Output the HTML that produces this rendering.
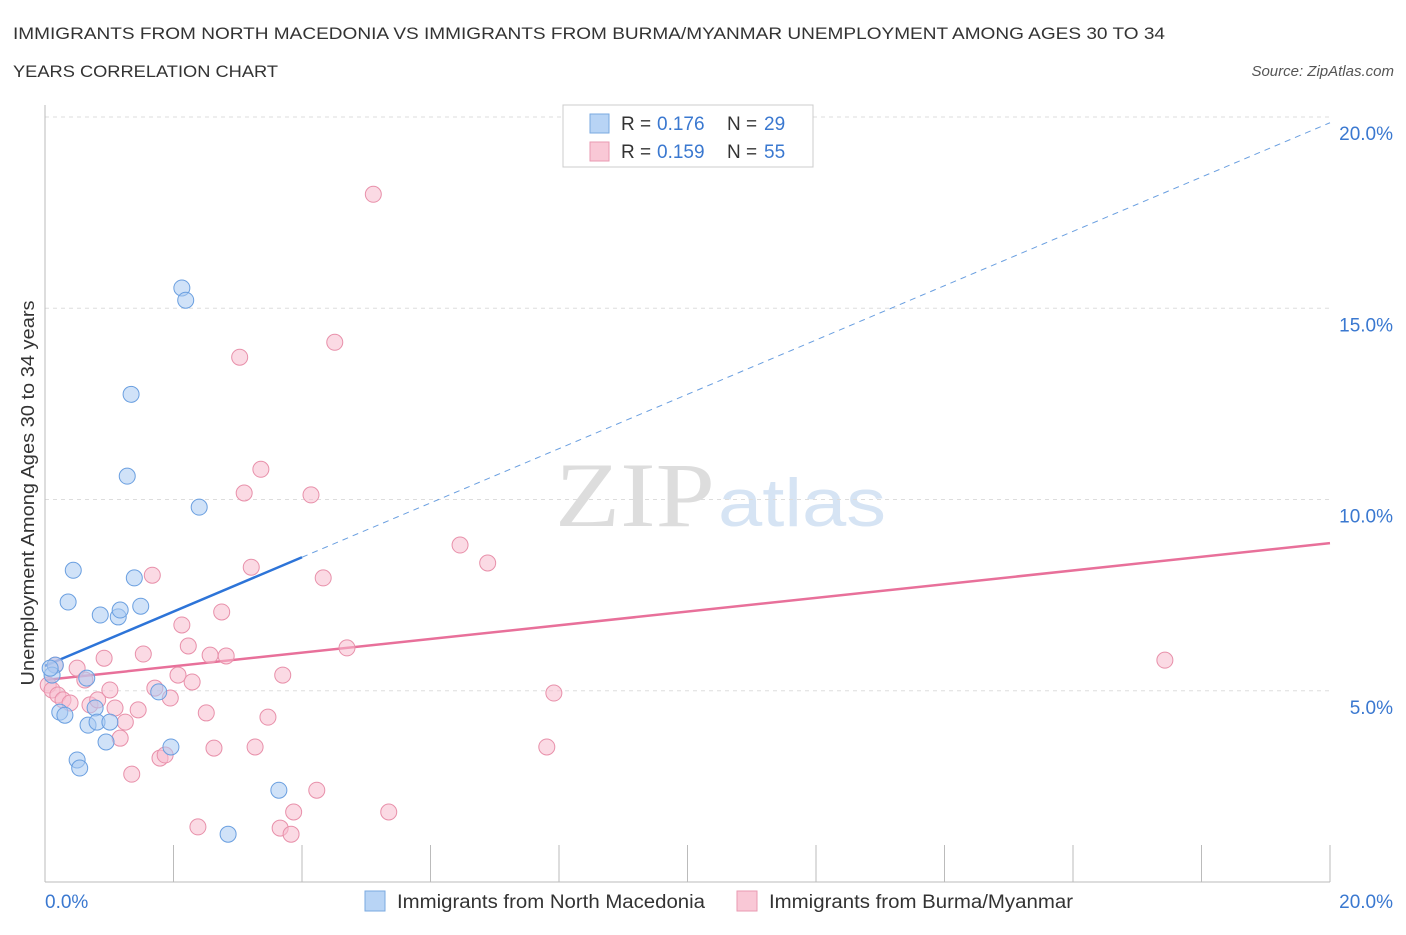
<!DOCTYPE html>
<html><head><meta charset="utf-8"><style>
body{margin:0;background:#fff;font-family:"Liberation Sans",sans-serif;}
</style></head><body>
<svg id="c" width="1406" height="930" xmlns="http://www.w3.org/2000/svg" style="font-family:'Liberation Sans',sans-serif">
<text x="13" y="39" font-size="17" fill="#333" textLength="1152" lengthAdjust="spacingAndGlyphs">IMMIGRANTS FROM NORTH MACEDONIA VS IMMIGRANTS FROM BURMA/MYANMAR UNEMPLOYMENT AMONG AGES 30 TO 34</text>
<text x="13" y="77" font-size="17" fill="#333" textLength="265" lengthAdjust="spacingAndGlyphs">YEARS CORRELATION CHART</text>
<text x="1394" y="76" font-size="15" fill="#555" font-style="italic" text-anchor="end">Source: ZipAtlas.com</text>
<text x="555" y="526" font-size="92" fill="#ddd" font-family="Liberation Serif,serif" textLength="160" lengthAdjust="spacingAndGlyphs">ZIP</text>
<text x="718" y="526" font-size="68" fill="#d6e4f4" textLength="168" lengthAdjust="spacingAndGlyphs">atlas</text>
<text transform="translate(34,493) rotate(-90)" font-size="18" fill="#333" text-anchor="middle" textLength="385" lengthAdjust="spacingAndGlyphs">Unemployment Among Ages 30 to 34 years</text>
<g id="grid"></g><g id="lines"></g><g id="pts"></g>
<g>
<rect x="563" y="105" width="250" height="62" fill="#fff" stroke="#ccc"/>
<rect x="590" y="114" width="19" height="19" fill="#b8d4f5" stroke="#7aaae0"/>
<rect x="590" y="142" width="19" height="19" fill="#f9c8d6" stroke="#e99ab2"/>
<text y="130" font-size="19" fill="#333"><tspan x="621">R =</tspan><tspan x="657" fill="#3a78d0">0.176</tspan><tspan x="727">N =</tspan><tspan x="764" fill="#3a78d0">29</tspan></text>
<text y="158" font-size="19" fill="#333"><tspan x="621">R =</tspan><tspan x="657" fill="#3a78d0">0.159</tspan><tspan x="727">N =</tspan><tspan x="764" fill="#3a78d0">55</tspan></text>
</g>
<g>
<rect x="365" y="891" width="20" height="20" fill="#b8d4f5" stroke="#7aaae0"/>
<text x="397" y="908" font-size="19" fill="#333" textLength="308" lengthAdjust="spacingAndGlyphs">Immigrants from North Macedonia</text>
<rect x="737" y="891" width="20" height="20" fill="#f9c8d6" stroke="#e99ab2"/>
<text x="769" y="908" font-size="19" fill="#333" textLength="304" lengthAdjust="spacingAndGlyphs">Immigrants from Burma/Myanmar</text>
</g>
</svg>
<script>
const yTicks=[5,10,15,20];
const yTickLabels=["5.0%","10.0%","15.0%","20.0%"];
const blueX=[.16,.11,.23,.31,.44,.36,.50,.54,.67,.65,.78,.81,.86,.95,1.01,1.14,1.17,1.28,1.34,1.39,1.49,1.77,1.96,2.13,2.19,2.40,2.85,3.64,.08];
const blueY=[5.67,5.41,4.44,4.36,8.15,7.32,3.19,2.98,4.10,5.33,4.55,4.18,6.98,3.66,4.18,6.93,7.11,10.61,12.75,7.95,7.21,4.97,3.53,15.53,15.21,9.80,1.25,2.40,5.59];
const pinkX=[.05,.11,.16,.20,.28,.39,.50,.62,.70,.82,.92,1.01,1.09,1.17,1.25,1.35,1.45,1.53,1.67,1.71,1.79,1.87,1.95,2.07,2.13,2.23,2.29,2.38,2.51,2.57,2.63,2.75,2.82,3.03,3.10,3.21,3.27,3.36,3.47,3.66,3.70,3.83,3.87,4.14,4.23,4.33,4.51,4.70,5.11,5.35,6.46,6.89,7.81,7.92,17.43];
const pinkY=[5.15,5.02,5.67,4.89,4.76,4.68,5.59,5.28,4.63,4.76,5.85,5.02,4.55,3.76,4.18,2.82,4.50,5.96,8.02,5.07,3.24,3.32,4.81,5.41,6.72,6.17,5.23,1.44,4.42,5.93,3.50,7.06,5.91,13.72,10.17,8.23,3.53,10.79,4.31,1.41,5.41,1.25,1.83,10.12,2.40,7.95,14.11,6.12,17.98,1.83,8.81,8.34,3.53,4.94,5.80];
const blueTrend=[5.65,0.71];
const pinkTrend=[5.28,0.179];
const NS="http://www.w3.org/2000/svg";
const sx=v=>45+v/20*1285, sy=v=>882-v/20*765;
function mk(t,a,p){const e=document.createElementNS(NS,t);for(const k in a)e.setAttribute(k,a[k]);document.getElementById(p).appendChild(e);return e;}
yTicks.forEach((v,i)=>{
 const g=mk('line',{x1:45,x2:1330,y1:sy(v),y2:sy(v),stroke:'#ddd','stroke-dasharray':'4,4'},'grid');
 
 
 const t=mk('text',{x:1393,y:sy(v)+23,'font-size':19,fill:'#3a78d0','text-anchor':'end'},'grid');
 t.textContent=yTickLabels[i];
 
 
});
const ax=mk('line',{x1:45,x2:45,y1:105,y2:882,stroke:'#bbb'},'grid');


const bx=mk('line',{x1:45,x2:1330,y1:882,y2:882,stroke:'#bbb'},'grid');


for(let i=0;i<=10;i++){const tk=mk('line',{x1:sx(i*2),x2:sx(i*2),y1:845,y2:882,stroke:'#bbb'},'grid');
 
 }
[[0,"0.0%",45,'start'],[20,"20.0%",1393,'end']].forEach(d=>{const t=mk('text',{x:d[2],y:908,'font-size':19,fill:'#3a78d0','text-anchor':d[3]},'grid');t.textContent=d[1];
 
 });
function pts(X,Y,fill,stroke,name){X.forEach((x,i)=>{const c=mk('circle',{cx:sx(x),cy:sy(Y[i]),r:8,fill:fill,'fill-opacity':0.55,stroke:stroke,'stroke-width':1},'pts');
 
 });}
pts(pinkX,pinkY,'#f7bccd','#e890aa','burma-point');
pts(blueX,blueY,'#a9cbf2','#6a9fe0','macedonia-point');
const l1=mk('line',{x1:sx(0),y1:sy(pinkTrend[0]),x2:sx(20),y2:sy(pinkTrend[0]+20*pinkTrend[1]),stroke:'#e8709a','stroke-width':2.5},'lines');


const l2=mk('line',{x1:sx(0),y1:sy(blueTrend[0]),x2:sx(4),y2:sy(blueTrend[0]+4*blueTrend[1]),stroke:'#2d74d8','stroke-width':2.5},'lines');


const l3=mk('line',{x1:sx(4),y1:sy(blueTrend[0]+4*blueTrend[1]),x2:sx(20),y2:sy(blueTrend[0]+20*blueTrend[1]),stroke:'#6a9fe0','stroke-width':1,'stroke-dasharray':'6,5'},'lines');


</script>
</body></html>
